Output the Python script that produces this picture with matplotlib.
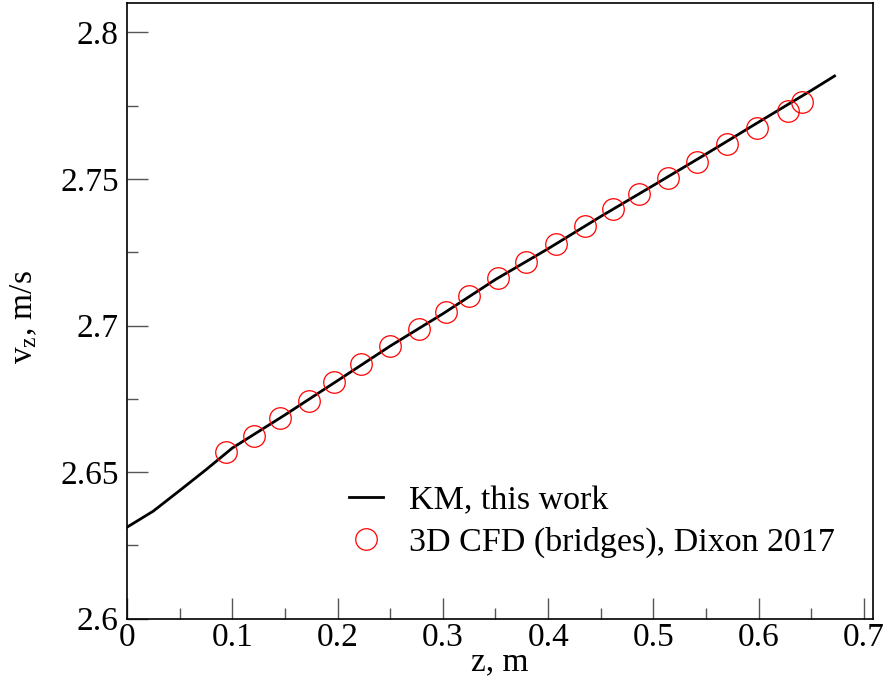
import matplotlib
matplotlib.use("Agg")
import matplotlib.pyplot as plt
from matplotlib.ticker import MultipleLocator, FixedLocator

plt.rcParams['font.family'] = ['Liberation Serif', 'DejaVu Serif']
plt.rcParams['mathtext.default'] = 'regular'

# KM model line
km_z = [0.0, 0.025, 0.05, 0.075, 0.1, 0.15, 0.2, 0.25, 0.3, 0.35, 0.4,
        0.45, 0.5, 0.55, 0.6, 0.65, 0.672]
km_v = [2.6312, 2.6367, 2.6437, 2.6508, 2.6582, 2.6695, 2.6812, 2.6930,
        2.7040, 2.7157, 2.7262, 2.7372, 2.7478, 2.7585, 2.7694, 2.7802, 2.7851]

# 3D CFD data points
cfd_z = [0.0941, 0.1207, 0.1454, 0.1730, 0.1971, 0.2227, 0.2495, 0.2776,
         0.3032, 0.3251, 0.3520, 0.3790, 0.4078, 0.4351, 0.4617, 0.4860,
         0.5143, 0.5418, 0.5699, 0.5979, 0.6277, 0.6414]
cfd_v = [2.6568, 2.6623, 2.6684, 2.6744, 2.6806, 2.6868, 2.6930, 2.6988,
         2.7046, 2.7101, 2.7162, 2.7216, 2.7277, 2.7338, 2.7396, 2.7450,
         2.7504, 2.7556, 2.7618, 2.7672, 2.7730, 2.7764]

xticks = [0, 0.1, 0.2, 0.3, 0.4, 0.5, 0.6, 0.7]
xticklabels = ['0', '0.1', '0.2', '0.3', '0.4', '0.5', '0.6', '0.7']
yticks = [2.6, 2.65, 2.7, 2.75, 2.8]
yticklabels = ['2.6', '2.65', '2.7', '2.75', '2.8']

fig = plt.figure(figsize=(8.86, 6.82), dpi=100)
ax = fig.add_axes([0.1433, 0.0928, 0.842, 0.9028])

ax.plot(km_z, km_v, color='black', lw=2.0, label='KM, this work', zorder=3)
ax.plot(cfd_z, cfd_v, ls='none', marker='o', ms=15.5, mfc='none', mec='red',
        mew=0.9, label='3D CFD (bridges), Dixon 2017', zorder=4)

ax.set_xlim(0, 0.7085)
ax.set_ylim(2.6, 2.81)
ax.xaxis.set_major_locator(FixedLocator(xticks))
ax.set_xticklabels(xticklabels)
ax.yaxis.set_major_locator(FixedLocator(yticks))
ax.set_yticklabels(yticklabels)
ax.xaxis.set_minor_locator(MultipleLocator(0.05))
ax.yaxis.set_minor_locator(MultipleLocator(0.025))
ax.tick_params(which='both', direction='in', top=False, right=False,
               labelsize=24, width=1.0, color='#555555')
ax.tick_params(which='major', length=15)
ax.tick_params(axis='x', which='major', pad=3)
ax.tick_params(axis='y', which='major', pad=6)
ax.tick_params(which='minor', length=8)
for s in ax.spines.values():
    s.set_linewidth(1.2)

ax.set_xlabel('z, m', fontsize=24)
ax.xaxis.set_label_coords(0.5, -0.045, transform=ax.transAxes)
ax.xaxis.label.set_va('top')
ax.set_ylabel('v$_{z}$, m/s', fontsize=24)
ax.yaxis.set_label_coords(-0.118, 0.49)

leg = ax.legend(loc='upper left', bbox_to_anchor=(0.298, 0.217), frameon=False,
                fontsize=24.5, handlelength=1.0, handletextpad=0.75,
                labelspacing=0.33, borderaxespad=0, borderpad=0)

fig.savefig('out.png', dpi=100)
